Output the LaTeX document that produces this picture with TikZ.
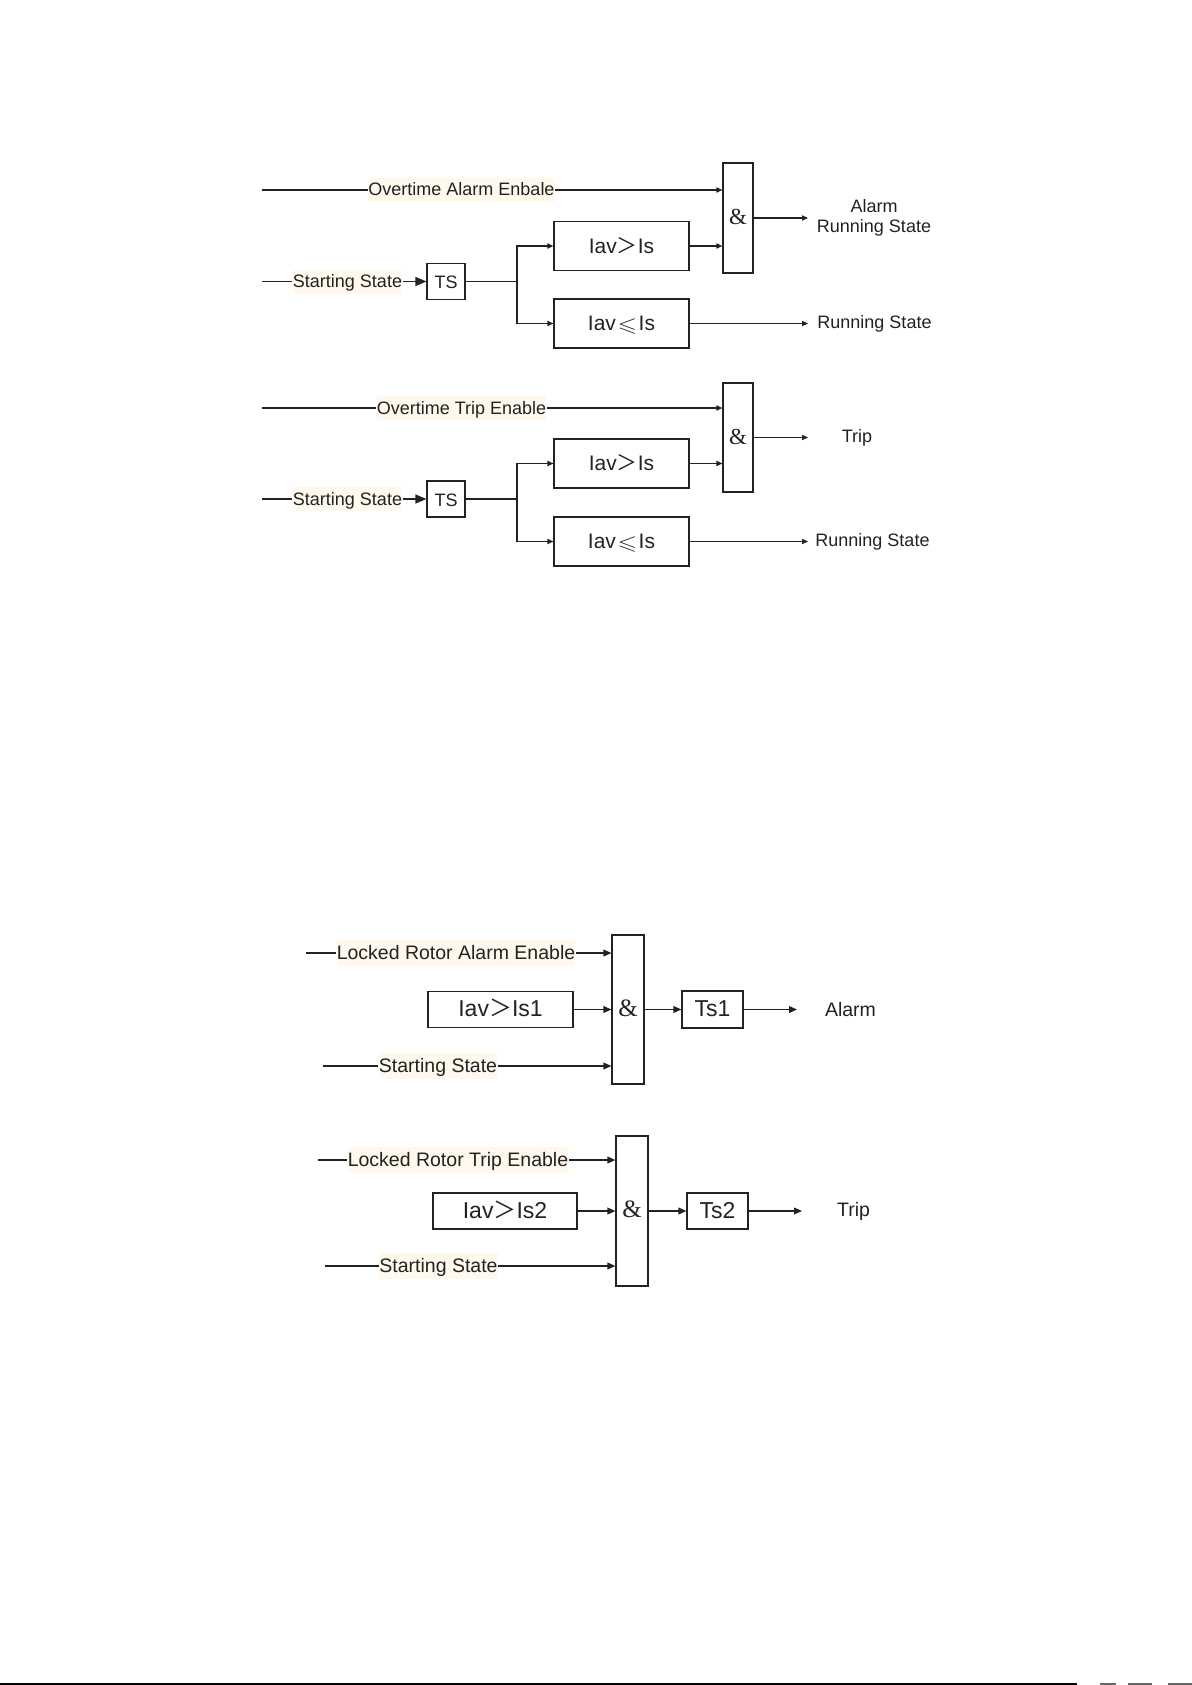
\documentclass[tikz,border=0pt]{standalone}
\usepackage{amssymb}
\usepackage{graphicx}
\usepackage{fontspec}
\setmainfont{Liberation Sans}
\newfontfamily\seriff{Liberation Serif}
\newfontfamily\cjkf{Noto Sans CJK SC}
\usetikzlibrary{arrows.meta}
\definecolor{labelbg}{HTML}{FFF8EC}
\definecolor{ink}{HTML}{222222}
\newcommand\gtsym{{\cjkf ＞}}
\newcommand\lesym{\kern0.8pt\raisebox{-0.3pt}{\scalebox{1.2}[0.95]{$\leqslant$}}\kern0.8pt}
\begin{document}
\begin{tikzpicture}[x=0.5pt,y=-0.5pt,line width=0.6pt,color=ink,
  every node/.style={inner sep=0pt},
  blk/.style={draw,rectangle,inner sep=0pt,text height=0.72em,text depth=0pt},
  andg/.style={draw,rectangle,inner sep=0pt,text height=0.66em,text depth=0pt},
  lblA/.style={fill=labelbg,inner xsep=0pt,inner ysep=1.5pt,text height=7.5pt,text depth=1.5pt,font=\fontsize{9}{10}\selectfont},
  lblB/.style={fill=labelbg,inner xsep=0pt,inner ysep=1.5pt,text height=8pt,text depth=1.7pt,font=\fontsize{9.75}{11}\selectfont},
  outA/.style={align=center,font=\fontsize{9}{10}\selectfont},
  outB/.style={align=center,font=\fontsize{9.75}{11}\selectfont},
  arr/.style={-{Triangle[length=3pt,width=2.6pt]}},
  bigarr/.style={-{Triangle[length=5.5pt,width=4.5pt]}},
  arrB/.style={-{Triangle[length=4pt,width=3.4pt]}}]
\useasboundingbox (0,0) rectangle (1192,1685);
\fill[white] (0,0) rectangle (1192,1685);

% ---------- Section 1 ----------
\node[andg,minimum width=15pt,minimum height=55pt,font=\seriff\fontsize{11.5}{12}\selectfont] (and1) at (738,218) {\&};
\node[blk,minimum width=67.5pt,minimum height=24.5pt,font=\fontsize{10.5}{12}\selectfont] (c1a) at (621.5,246) {Iav\gtsym Is};
\node[blk,minimum width=67.5pt,minimum height=24.5pt,font=\fontsize{10.5}{12}\selectfont] (c1b) at (621.5,323.5) {Iav\lesym Is};
\node[blk,minimum width=19pt,minimum height=18pt,font=\fontsize{9}{10}\selectfont] (ts1) at (446,281.5) {TS};
\node[lblA] (l1a) at (461.5,190) {Overtime Alarm Enbale};
\coordinate (s1a) at (262,190);
\node[lblA] (l1b) at (347.5,281.5) {Starting State};
\coordinate (s1b) at (262,281.5);
\coordinate (b1) at (517,281.5);
\node[outA] (o1a) at (874,218) {Alarm\\Running State};
\coordinate (e1a) at (808,218);
\node[outA] (o1b) at (874.5,323.5) {Running State};
\coordinate (e1b) at (808,323.5);

\draw (s1a) -- (l1a.west);
\draw[arr] (l1a.east) -- (l1a.east -| and1.west);
\draw (s1b) -- (l1b.west);
\draw[bigarr] (l1b.east) -- (ts1.west);
\draw (ts1.east) -- (b1);
\draw[arr] (b1) |- (c1a.west);
\draw[arr] (b1) |- (c1b.west);
\draw[arr] (c1a.east) -- (c1a.east -| and1.west);
\draw[arr] (and1.east) -- (e1a);
\draw[arr] (c1b.east) -- (e1b);

% ---------- Section 2 ----------
\node[andg,minimum width=15pt,minimum height=54.5pt,font=\seriff\fontsize{11.5}{12}\selectfont] (and2) at (738,437.5) {\&};
\node[blk,minimum width=67.5pt,minimum height=24.5pt,font=\fontsize{10.5}{12}\selectfont] (c2a) at (621.5,463.5) {Iav\gtsym Is};
\node[blk,minimum width=67.5pt,minimum height=24.5pt,font=\fontsize{10.5}{12}\selectfont] (c2b) at (621.5,541.5) {Iav\lesym Is};
\node[blk,minimum width=19pt,minimum height=18pt,font=\fontsize{9}{10}\selectfont] (ts2) at (446,499) {TS};
\node[lblA] (l2a) at (461.5,408) {Overtime Trip Enable};
\coordinate (s2a) at (262,408);
\node[lblA] (l2b) at (347.5,499) {Starting State};
\coordinate (s2b) at (262,499);
\coordinate (b2) at (517,499);
\node[outA] (o2a) at (857,437.5) {Trip};
\coordinate (e2a) at (808,437.5);
\node[outA] (o2b) at (872.5,541.5) {Running State};
\coordinate (e2b) at (808,541.5);

\draw (s2a) -- (l2a.west);
\draw[arr] (l2a.east) -- (l2a.east -| and2.west);
\draw (s2b) -- (l2b.west);
\draw[bigarr] (l2b.east) -- (ts2.west);
\draw (ts2.east) -- (b2);
\draw[arr] (b2) |- (c2a.west);
\draw[arr] (b2) |- (c2b.west);
\draw[arr] (c2a.east) -- (c2a.east -| and2.west);
\draw[arr] (and2.east) -- (e2a);
\draw[arr] (c2b.east) -- (e2b);

% ---------- Section 3 ----------
\node[andg,minimum width=16pt,minimum height=74.5pt,font=\seriff\fontsize{12.5}{13}\selectfont] (and3) at (628,1009.5) {\&};
\node[blk,minimum width=72.5pt,minimum height=18pt,font=\fontsize{11.5}{13}\selectfont] (c3) at (500.5,1009.5) {Iav\gtsym Is1};
\node[blk,minimum width=30.5pt,minimum height=18.5pt,font=\fontsize{11.5}{13}\selectfont] (ts3) at (712.5,1009.5) {Ts1};
\node[lblB] (l3a) at (456,953) {Locked Rotor Alarm Enable\hspace{3pt}};
\coordinate (s3a) at (306,953);
\node[lblB] (l3b) at (438,1066) {Starting State};
\coordinate (s3b) at (323,1066);
\node[outB] (o3) at (850.5,1009.5) {Alarm};
\coordinate (e3) at (797,1009.5);

\draw (s3a) -- (l3a.west);
\draw[arrB] (l3a.east) -- (l3a.east -| and3.west);
\draw[arrB] (c3.east) -- (c3.east -| and3.west);
\draw (s3b) -- (l3b.west);
\draw[arrB] (l3b.east) -- (l3b.east -| and3.west);
\draw[arrB] (and3.east) -- (ts3.west);
\draw[arrB] (ts3.east) -- (e3);

% ---------- Section 4 ----------
\node[andg,minimum width=16pt,minimum height=75pt,font=\seriff\fontsize{12.5}{13}\selectfont] (and4) at (632,1211) {\&};
\node[blk,minimum width=72pt,minimum height=18pt,font=\fontsize{11.5}{13}\selectfont] (c4) at (505,1211) {Iav\gtsym Is2};
\node[blk,minimum width=30.5pt,minimum height=18pt,font=\fontsize{11.5}{13}\selectfont] (ts4) at (717.5,1211) {Ts2};
\node[lblB] (l4a) at (458,1160) {Locked Rotor Trip Enable};
\coordinate (s4a) at (318,1160);
\node[lblB] (l4b) at (438.5,1266) {Starting State};
\coordinate (s4b) at (325,1266);
\node[outB] (o4) at (853.5,1211) {Trip};
\coordinate (e4) at (802,1211);

\draw (s4a) -- (l4a.west);
\draw[arrB] (l4a.east) -- (l4a.east -| and4.west);
\draw[arrB] (c4.east) -- (c4.east -| and4.west);
\draw (s4b) -- (l4b.west);
\draw[arrB] (l4b.east) -- (l4b.east -| and4.west);
\draw[arrB] (and4.east) -- (ts4.west);
\draw[arrB] (ts4.east) -- (e4);

% ---------- page edge ----------
\draw[black,line width=1pt] (0,1683.5) -- (1077,1683.5);
\draw[black!60,line width=1pt] (1100,1683.5) -- (1116,1683.5);
\draw[black!60,line width=1pt] (1128,1683.5) -- (1152,1683.5);
\draw[black!60,line width=1pt] (1168,1683.5) -- (1192,1683.5);
\end{tikzpicture}
\end{document}
